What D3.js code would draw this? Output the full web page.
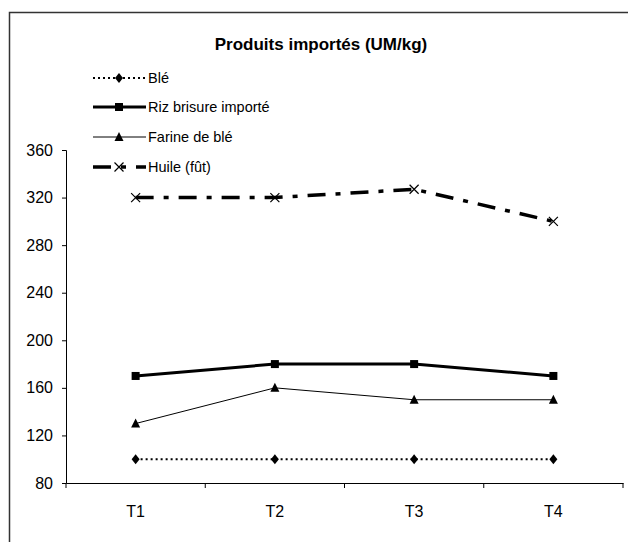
<!DOCTYPE html>
<html>
<head>
<meta charset="utf-8">
<script src="https://cdn.jsdelivr.net/npm/d3@7"></script>
<style>
  body { margin: 0; background: #fff; }
  text { font-family: "Liberation Sans", Arial, sans-serif; fill: #000; }
</style>
</head>
<body>
<svg id="chart" width="628" height="542"></svg>
<script>
// Products imported, price per kg by quarter

var periods = ["T1", "T2", "T3", "T4"];
var seriesNames = ["Blé", "Riz brisure importé", "Farine de blé", "Huile (fût)"];
var ble = [100, 100, 100, 100];
var riz = [170, 180, 180, 170];
var farine = [130, 160, 150, 150];
var huile = [320, 320, 327, 300];
var yTicks = [80, 120, 160, 200, 240, 280, 320, 360];
var chartTitle = "Produits importés (UM/kg)";

var svg = d3.select("#chart");
var plotLeft = 66;
var plotRight = 623;
var plotTop = 150;
var plotBottom = 483;

// one style per series, same order as seriesNames
var styles = [
	{ width: 2, dash: "2,3", marker: "diamond" },
	{ width: 3, dash: null, marker: "square" },
	{ width: 1, dash: null, marker: "triangle" },
	{ width: 3.5, dash: "18,10,5,10", marker: "cross" }
];

var x = d3.scaleBand()
	.domain(periods)
	.range([plotLeft, plotRight]);
var y = d3.scaleLinear()
	.domain([80, 360])
	.range([plotBottom, plotTop]);

// outer frame, runs off the right and bottom edge like the original
svg.append("rect")
	.attr("x", 9.5)
	.attr("y", 12.5)
	.attr("width", 700)
	.attr("height", 600)
	.attr("fill", "none")
	.attr("stroke", "#333")
	.attr("stroke-width", 1.5);

svg.append("text")
	.attr("x", 321)
	.attr("y", 50)
	.attr("text-anchor", "middle")
	.style("font-size", "17px")
	.style("font-weight", "bold")
	.text(chartTitle);

// y axis
var yAxis = svg.append("g")
	.attr("transform", "translate(" + plotLeft + ",0)")
	.call(d3.axisLeft(y).tickValues(yTicks).tickSize(4).tickPadding(9));
yAxis.attr("font-family", null);
yAxis.selectAll("text").style("font-size", "16px");

// x axis: labels centred in bands, ticks on band edges
var xAxis = svg.append("g")
	.attr("transform", "translate(0," + plotBottom + ")")
	.call(d3.axisBottom(x).tickSize(0).tickPadding(23));
xAxis.attr("font-family", null);
xAxis.selectAll("text").style("font-size", "16px");
var edges = periods.map(function(d) { return x(d); });
edges.push(x(periods[periods.length - 1]) + x.bandwidth());
xAxis.selectAll(".edge")
	.data(edges)
	.enter()
	.append("line")
	.attr("class", "edge")
	.attr("x1", function(d) { return d; })
	.attr("x2", function(d) { return d; })
	.attr("y1", 0)
	.attr("y2", 5)
	.attr("stroke", "#000");
svg.selectAll(".domain").attr("stroke", "#000");

function drawMarker(g, type, cx, cy) {
	if (type == "diamond") {
		g.append("path")
			.attr("d", "M" + cx + "," + (cy - 5) + "L" + (cx + 4) + "," + cy + "L" + cx + "," + (cy + 5) + "L" + (cx - 4) + "," + cy + "Z")
			.attr("fill", "#000");
	} else if (type == "square") {
		g.append("rect")
			.attr("x", cx - 4)
			.attr("y", cy - 4)
			.attr("width", 8)
			.attr("height", 8)
			.attr("fill", "#000");
	} else if (type == "triangle") {
		g.append("path")
			.attr("d", "M" + cx + "," + (cy - 5) + "L" + (cx + 4.5) + "," + (cy + 4) + "L" + (cx - 4.5) + "," + (cy + 4) + "Z")
			.attr("fill", "#000");
	} else {
		g.append("path")
			.attr("d", "M" + (cx - 4.5) + "," + (cy - 4.5) + "L" + (cx + 4.5) + "," + (cy + 4.5) + "M" + (cx + 4.5) + "," + (cy - 4.5) + "L" + (cx - 4.5) + "," + (cy + 4.5))
			.attr("stroke", "#000")
			.attr("stroke-width", 1.2)
			.attr("fill", "none");
	}
}

var allSeries = [ble, riz, farine, huile];
var line = d3.line()
	.x(function(d, i) { return x(periods[i]) + x.bandwidth() / 2; })
	.y(function(d) { return y(d); });

for (var s = 0; s < allSeries.length; s++) {
	let g = svg.append("g");
	let st = styles[s];
	g.append("path")
		.datum(allSeries[s])
		.attr("d", line)
		.attr("fill", "none")
		.attr("stroke", "#000")
		.attr("stroke-width", st.width)
		.attr("stroke-dasharray", st.dash);
	for (var i = 0; i < periods.length; i++) {
		drawMarker(g, st.marker, x(periods[i]) + x.bandwidth() / 2, y(allSeries[s][i]));
	}
}

// legend, top left inside the frame
var legend = svg.append("g");
var legendY = [78, 107, 137, 167];
for (var k = 0; k < seriesNames.length; k++) {
	let st = styles[k];
	legend.append("line")
		.attr("x1", 93)
		.attr("x2", 146)
		.attr("y1", legendY[k])
		.attr("y2", legendY[k])
		.attr("stroke", "#000")
		.attr("stroke-width", st.width)
		.attr("stroke-dasharray", st.dash);
	drawMarker(legend, st.marker, 119, legendY[k]);
	legend.append("text")
		.attr("x", 148)
		.attr("y", legendY[k] + 5)
		.style("font-size", "14.5px")
		.text(seriesNames[k]);
}
</script>
</body>
</html>
